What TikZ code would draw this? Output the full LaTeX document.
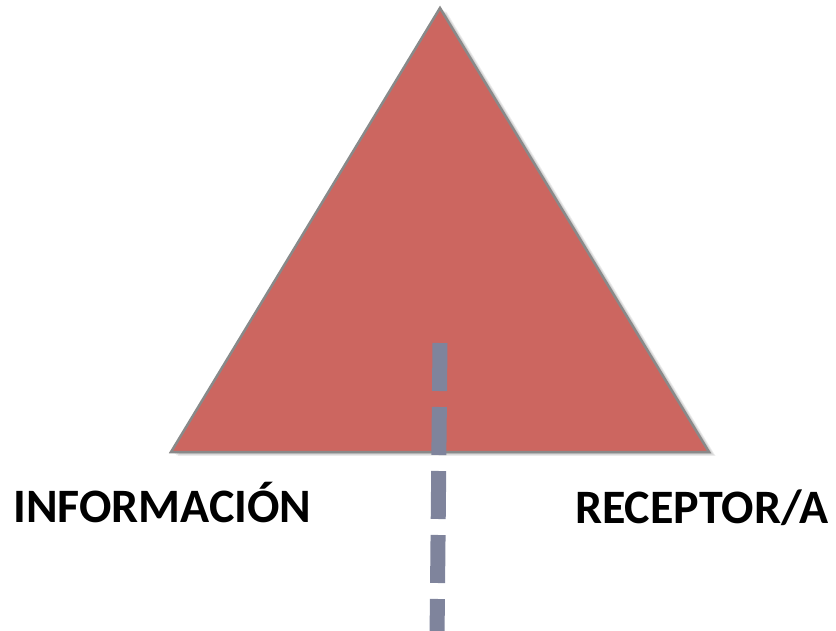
\documentclass[tikz,border=0pt]{standalone}
\usepackage{fontspec}
\setmainfont{Carlito}
\begin{document}
\begin{tikzpicture}[x=1pt,y=-1pt,
  tri/.style={fill=trired, draw=triedge, line width=2.5pt, line join=miter},
  shadowtri/.style={fill=black, opacity=0.07},
  dashline/.style={draw=dashcol, line width=15pt, dash pattern=on 48pt off 16pt},
  label/.style={font=\fontsize{48}{52}\selectfont\bfseries, inner sep=0pt, text=black}]
\definecolor{trired}{RGB}{204,102,96}
\definecolor{triedge}{RGB}{137,137,137}
\definecolor{dashcol}{RGB}{127,132,156}
\useasboundingbox (0,0) rectangle (836,630);
\coordinate (apex) at (440,8);
\coordinate (bl) at (171,452);
\coordinate (br) at (709,452);
% soft shadow
\foreach \d in {2,3.5,5,6.5}{
  \fill[shadowtri] ([shift={(\d,\d*0.6)}]apex) -- ([shift={(\d,\d*0.6)}]br) -- ([shift={(\d,\d*0.6)}]bl) -- cycle;
}
\draw[tri] (apex) -- (br) -- (bl) -- cycle;
\coordinate (dtop) at (440,343);
\coordinate (dbot) at (437,640);
\draw[dashline] (dtop) -- (dbot);
\node[label, anchor=base west] (info) at (13,522) {INFORMACIÓN};
\node[label, anchor=base west] (rec) at (575,523) {RECEPTOR/A};
\end{tikzpicture}
\end{document}
